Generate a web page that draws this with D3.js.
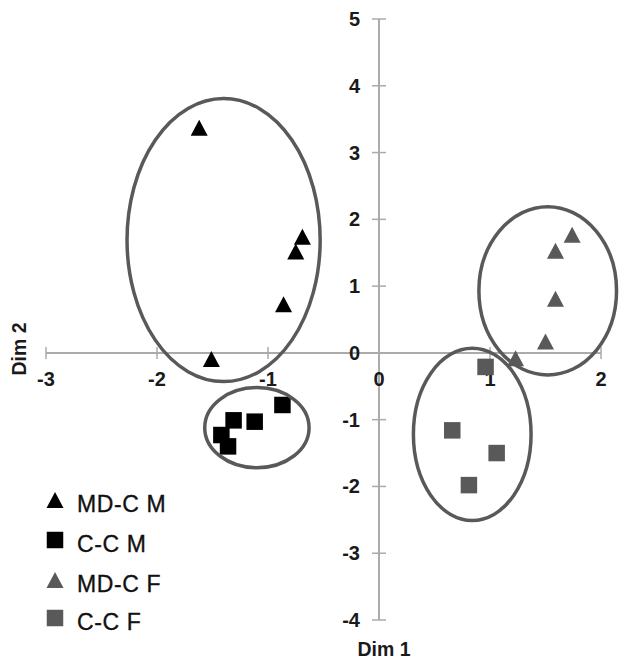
<!DOCTYPE html>
<html>
<head>
<meta charset="utf-8">
<script src="https://cdn.jsdelivr.net/npm/d3@7"></script>
<style>
html,body{margin:0;padding:0;background:#fff;}
svg{display:block;}
</style>
</head>
<body>
<svg id="chart" width="620" height="659"></svg>
<script>
// ---- data ----
const xTicks = [-3, -2, -1, 0, 1, 2];
const yTicks = [-4, -3, -2, -1, 0, 1, 2, 3, 4, 5];

const mdcM_x = [-1.62, -0.69, -0.75, -0.86, -1.51];
const mdcM_y = [3.37, 1.74, 1.52, 0.73, -0.09];

const ccM_x = [-0.87, -1.12, -1.31, -1.42, -1.36];
const ccM_y = [-0.78, -1.03, -1.01, -1.23, -1.40];

const mdcF_x = [1.74, 1.59, 1.59, 1.50, 1.23];
const mdcF_y = [1.77, 1.53, 0.81, 0.17, -0.08];

const ccF_x = [0.96, 0.66, 1.06, 0.81];
const ccF_y = [-0.21, -1.16, -1.50, -1.98];

const seriesNames = ["MD-C M", "C-C M", "MD-C F", "C-C F"];

// cluster ellipses: centre x, centre y, radius x, radius y (data units)
const ellCx = [-1.40, -1.10, 1.52, 0.84];
const ellCy = [1.69, -1.12, 0.93, -1.22];
const ellRx = [0.87, 0.47, 0.62, 0.53];
const ellRy = [2.12, 0.60, 1.26, 1.29];

// ---- chart ----
const svg = d3.select("#chart");
const x = d3.scaleLinear().domain([-3, 2]).range([46, 601]);
const y = d3.scaleLinear().domain([-4, 5]).range([620, 19]);

const axisColor = "#ababab";
const tickFont = "'Liberation Sans', Arial, sans-serif";

// axes lines
svg.append("line").attr("x1", x(-3)).attr("x2", x(2)).attr("y1", y(0)).attr("y2", y(0))
  .attr("stroke", axisColor).attr("stroke-width", 2);
svg.append("line").attr("x1", x(0)).attr("x2", x(0)).attr("y1", y(-4)).attr("y2", y(5))
  .attr("stroke", axisColor).attr("stroke-width", 2);

// crossing tick marks
svg.selectAll(".xt").data(xTicks).enter().append("line")
  .attr("x1", d => x(d)).attr("x2", d => x(d))
  .attr("y1", y(0) - 6).attr("y2", y(0) + 6)
  .attr("stroke", axisColor).attr("stroke-width", 1.5);
svg.selectAll(".yt").data(yTicks).enter().append("line")
  .attr("x1", x(0) - 7).attr("x2", x(0) + 7)
  .attr("y1", d => y(d)).attr("y2", d => y(d))
  .attr("stroke", axisColor).attr("stroke-width", 1.5);

// tick labels
svg.selectAll(".xl").data(xTicks).enter().append("text")
  .attr("x", d => x(d)).attr("y", y(0) + 33)
  .attr("text-anchor", "middle")
  .style("font-family", tickFont).style("font-weight", "bold").style("font-size", "20px")
  .attr("fill", "#1a1a1a")
  .text(d => d);
svg.selectAll(".yl").data(yTicks).enter().append("text")
  .attr("x", x(0) - 19).attr("y", d => y(d) + 7)
  .attr("text-anchor", "end")
  .style("font-family", tickFont).style("font-weight", "bold").style("font-size", "20px")
  .attr("fill", "#1a1a1a")
  .text(d => d);

// axis titles
svg.append("text").attr("x", 384).attr("y", 656).attr("text-anchor", "middle")
  .style("font-family", tickFont).style("font-weight", "bold").style("font-size", "19.5px")
  .attr("fill", "#1a1a1a").text("Dim 1");
svg.append("text").attr("transform", "translate(26,349) rotate(-90)").attr("text-anchor", "middle")
  .style("font-family", tickFont).style("font-weight", "bold").style("font-size", "19.5px")
  .attr("fill", "#1a1a1a").text("Dim 2");

// marker shapes
const triPath = (w, h) => `M0,${-h/2}L${w/2},${h/2}L${-w/2},${h/2}Z`;
const sqPath = (s) => `M${-s/2},${-s/2}h${s}v${s}h${-s}Z`;

function drawSeries(xs, ys, path, color) {
  svg.append("g").selectAll("path").data(xs.map((v, i) => [v, ys[i]])).enter().append("path")
    .attr("d", path)
    .attr("transform", d => `translate(${x(d[0])},${y(d[1])})`)
    .attr("fill", color);
}
const black = "#000000";
const grey = "#595959";
drawSeries(mdcM_x, mdcM_y, triPath(17, 16), black);
drawSeries(ccM_x, ccM_y, sqPath(16.5), black);
drawSeries(mdcF_x, mdcF_y, triPath(17, 16), grey);
drawSeries(ccF_x, ccF_y, sqPath(16.5), grey);

// ellipses
svg.append("g").selectAll("ellipse").data(ellCx.map((c, i) => i)).enter().append("ellipse")
  .attr("cx", i => x(ellCx[i])).attr("cy", i => y(ellCy[i]))
  .attr("rx", i => x(ellCx[i] + ellRx[i]) - x(ellCx[i]))
  .attr("ry", i => y(ellCy[i]) - y(ellCy[i] + ellRy[i]))
  .attr("fill", "none").attr("stroke", "#595959").attr("stroke-width", 3.5);

// legend
const legendY = [500, 540, 580, 618];
const legendShape = [triPath(17, 16), sqPath(16.5), triPath(17, 16), sqPath(16.5)];
const legendColor = [black, black, grey, grey];
const lg = svg.append("g");
seriesNames.forEach((name, i) => {
  lg.append("path").attr("d", legendShape[i]).attr("transform", `translate(55,${legendY[i]})`)
    .attr("fill", legendColor[i]);
  lg.append("text").attr("x", 77).attr("y", legendY[i] + 12)
    .style("font-family", tickFont).style("font-size", "23px")
    .style("letter-spacing", "0.6px")
    .attr("fill", "#111").attr("stroke", "#111").attr("stroke-width", 0.35)
    .text(name);
});
</script>
</body>
</html>
